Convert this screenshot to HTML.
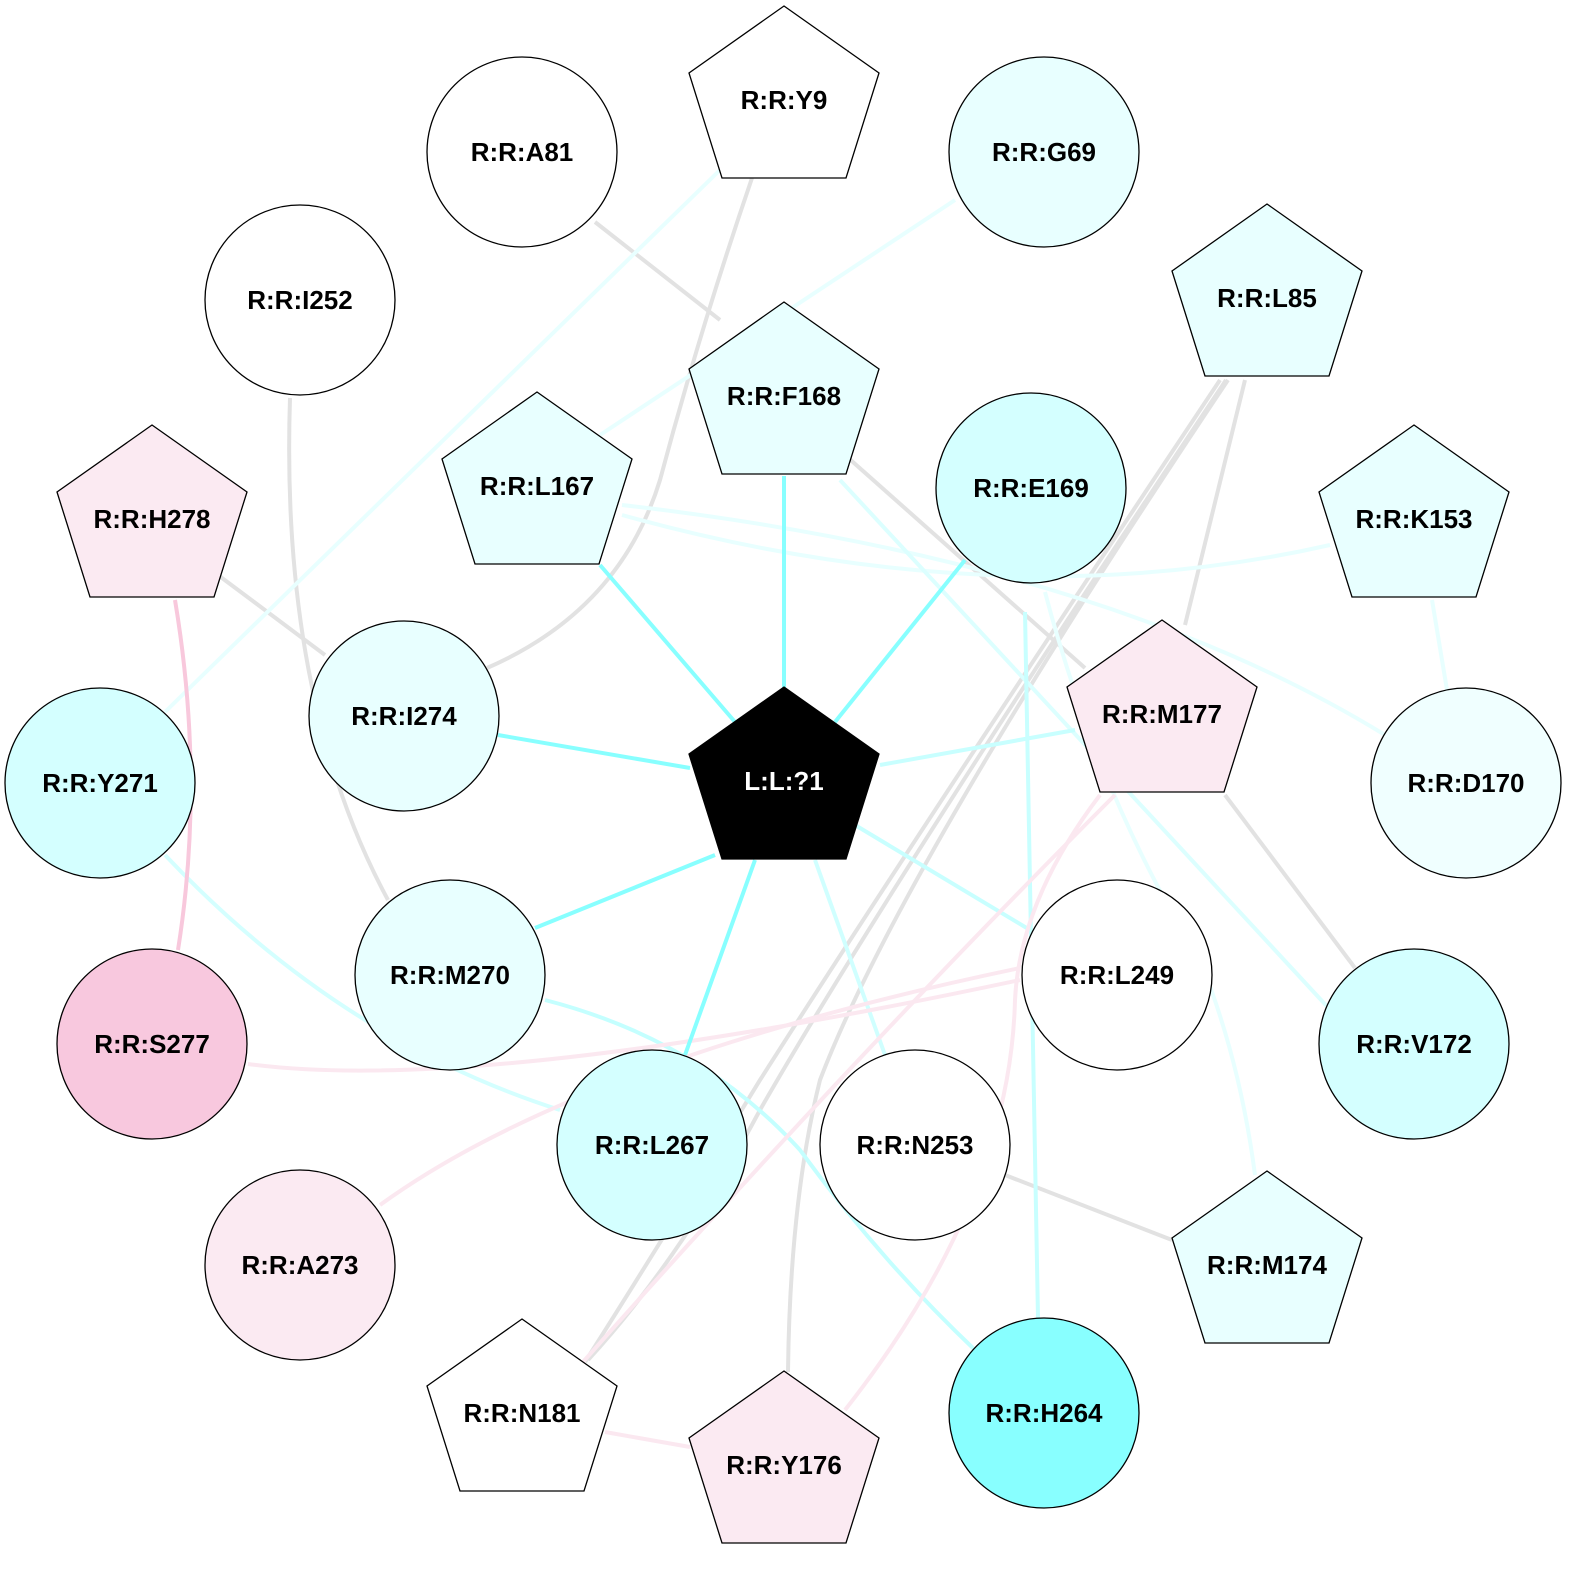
<!DOCTYPE html>
<html><head><meta charset="utf-8"><style>
html,body{margin:0;padding:0;background:#fff;}
svg text{font-family:"Liberation Sans",Arial,sans-serif;font-weight:bold;font-size:26px;text-anchor:middle;dominant-baseline:central;}
</style></head><body>
<svg width="1574" height="1574" viewBox="0 0 1574 1574" xmlns="http://www.w3.org/2000/svg">
<g fill="none" stroke-width="4">
<path d="M595 222 L720 320" stroke="#e2e2e2"/>
<path d="M752 178 Q700 330 660 480 Q620 610 487 668" stroke="#e2e2e2"/>
<path d="M290 398 Q280 700 388 900" stroke="#e2e2e2"/>
<path d="M1220 380 Q900 860 760 1080 Q650 1260 585 1362" stroke="#e2e2e2"/>
<path d="M1226 380 Q880 900 760 1110 Q680 1260 588 1360" stroke="#e2e2e2"/>
<path d="M1228 380 Q900 870 820 1080 Q790 1200 788 1372" stroke="#e2e2e2"/>
<path d="M1245 380 L1185 625" stroke="#e2e2e2"/>
<path d="M845 455 L1085 668" stroke="#e2e2e2"/>
<path d="M218 575 L325 655" stroke="#e2e2e2"/>
<path d="M1225 795 L1355 968" stroke="#e2e2e2"/>
<path d="M1005 1175 L1172 1240" stroke="#e2e2e2"/>
<path d="M722 168 L165 712" stroke="#e8ffff"/>
<path d="M955 200 L600 435" stroke="#e8ffff"/>
<path d="M622 515 Q1000 620 1330 545" stroke="#e8ffff"/>
<path d="M622 505 Q1100 560 1385 735" stroke="#e8ffff"/>
<path d="M1432 600 L1447 690" stroke="#e8ffff"/>
<path d="M840 480 L1335 1015" stroke="#dcffff"/>
<path d="M1045 592 Q1100 800 1200 960 Q1240 1060 1255 1175" stroke="#e8ffff"/>
<path d="M165 855 Q340 1040 560 1110" stroke="#d4ffff"/>
<path d="M545 1000 Q700 1040 800 1150 Q880 1260 975 1350" stroke="#c4ffff"/>
<path d="M1025 612 L1038 1318" stroke="#c8ffff"/>
<path d="M855 825 L1030 930" stroke="#c8ffff"/>
<path d="M815 860 L885 1055" stroke="#d0ffff"/>
<path d="M880 765 L1075 730" stroke="#c8ffff"/>
<path d="M175 600 Q205 780 178 950" stroke="#f8c8dc"/>
<path d="M380 1205 Q580 1060 1020 968" stroke="#fbe8f0"/>
<path d="M248 1064 Q480 1095 1020 980" stroke="#fbe8f0"/>
<path d="M1115 795 Q860 1050 583 1362" stroke="#fbe8f0"/>
<path d="M1100 795 Q1020 900 1015 1000 Q1010 1200 845 1410" stroke="#fbe8f0"/>
<path d="M605 1432 L690 1447" stroke="#fbe8f0"/>
<g stroke="#88ffff">
<path d="M784 688 L784 476"/>
<path d="M835 722 L965 560"/>
<path d="M735 722 L600 565"/>
<path d="M690 768 L498 735"/>
<path d="M715 855 L535 928"/>
<path d="M755 860 L685 1055"/>
</g>
</g>
<g stroke="#000" stroke-width="1.3">
<circle cx="522" cy="152" r="95" fill="#fff"/>
<polygon points="784,6 879,73 846,178 722,178 689,73" fill="#fff"/>
<circle cx="1044" cy="152" r="95" fill="#e8ffff"/>
<circle cx="300" cy="300" r="95" fill="#fff"/>
<polygon points="1267,204 1362,271 1329,376 1205,376 1172,271" fill="#e8ffff"/>
<polygon points="784,302 879,369 846,474 722,474 689,369" fill="#e8ffff"/>
<polygon points="537,392 632,459 599,564 475,564 442,459" fill="#e8ffff"/>
<circle cx="1031" cy="488" r="95" fill="#d4ffff"/>
<polygon points="152,425 247,492 214,597 90,597 57,492" fill="#fbeaf2"/>
<polygon points="1414,425 1509,492 1476,597 1352,597 1319,492" fill="#e8ffff"/>
<circle cx="404" cy="716" r="95" fill="#e8ffff"/>
<polygon points="1162,620 1257,687 1224,792 1100,792 1067,687" fill="#fbeaf2"/>
<circle cx="100" cy="783" r="95" fill="#d4ffff"/>
<circle cx="1466" cy="783" r="95" fill="#f0ffff"/>
<circle cx="450" cy="975" r="95" fill="#e8ffff"/>
<circle cx="1117" cy="975" r="95" fill="#fff"/>
<circle cx="152" cy="1044" r="95" fill="#f8c8de"/>
<circle cx="1414" cy="1044" r="95" fill="#d4ffff"/>
<circle cx="652" cy="1145" r="95" fill="#d4ffff"/>
<circle cx="915" cy="1145" r="95" fill="#fff"/>
<circle cx="300" cy="1265" r="95" fill="#fbeaf2"/>
<polygon points="1267,1171 1362,1238 1329,1343 1205,1343 1172,1238" fill="#e8ffff"/>
<polygon points="522,1319 617,1386 584,1491 460,1491 427,1386" fill="#fff"/>
<circle cx="1044" cy="1413" r="95" fill="#88ffff"/>
<polygon points="784,1371 879,1438 846,1543 722,1543 689,1438" fill="#fbeaf2"/>
<polygon points="784,687 879,754 846,859 722,859 689,754" fill="#000"/>
</g>
<text x="522" y="152">R:R:A81</text>
<text x="784" y="100">R:R:Y9</text>
<text x="1044" y="152">R:R:G69</text>
<text x="300" y="300">R:R:I252</text>
<text x="1267" y="298">R:R:L85</text>
<text x="784" y="396">R:R:F168</text>
<text x="537" y="486">R:R:L167</text>
<text x="1031" y="488">R:R:E169</text>
<text x="152" y="519">R:R:H278</text>
<text x="1414" y="519">R:R:K153</text>
<text x="404" y="716">R:R:I274</text>
<text x="1162" y="714">R:R:M177</text>
<text x="100" y="783">R:R:Y271</text>
<text x="1466" y="783">R:R:D170</text>
<text x="450" y="975">R:R:M270</text>
<text x="1117" y="975">R:R:L249</text>
<text x="152" y="1044">R:R:S277</text>
<text x="1414" y="1044">R:R:V172</text>
<text x="652" y="1145">R:R:L267</text>
<text x="915" y="1145">R:R:N253</text>
<text x="300" y="1265">R:R:A273</text>
<text x="1267" y="1265">R:R:M174</text>
<text x="522" y="1413">R:R:N181</text>
<text x="1044" y="1413">R:R:H264</text>
<text x="784" y="1465">R:R:Y176</text>
<text x="784" y="781" fill="#fff">L:L:?1</text>
</svg>
</body></html>
